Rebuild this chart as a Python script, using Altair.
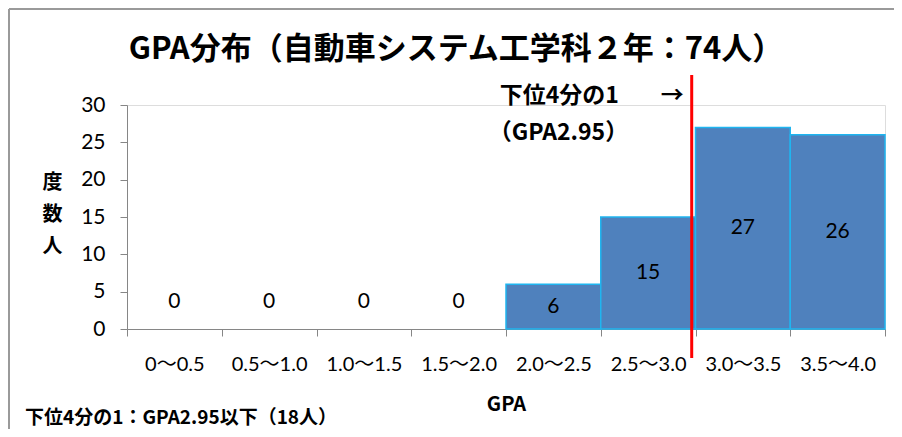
import altair as alt
import pandas as pd

categories = ["0〜0.5", "0.5〜1.0", "1.0〜1.5", "1.5〜2.0",
              "2.0〜2.5", "2.5〜3.0", "3.0〜3.5", "3.5〜4.0"]
counts = [0, 0, 0, 0, 6, 15, 27, 26]
cutoff_gpa = [2.98]
title_text = "GPA分布（自動車システム工学科２年：74人）"
note_line1 = "下位4分の1"
note_arrow = "→"
note_line2 = "（GPA2.95）"
footnote = "下位4分の1：GPA2.95以下（18人）"
y_title = ["度", "数", "人"]
y_ticks = [0, 5, 10, 15, 20, 25, 30]

W, H = 758, 224
NUM = "Lato, 'Noto Sans CJK JP', sans-serif"
JP = "'Noto Sans CJK JP', sans-serif"
AX = "#868686"

df = pd.DataFrame({"bin": categories, "count": counts})
cut = pd.DataFrame({"gpa": cutoff_gpa})

x_axis = alt.Axis(title="GPA", labelAngle=0, tickBand="extent",
                  domainColor=AX, tickColor=AX, tickSize=7,
                  labelFont=NUM, labelFontSize=20, labelColor="#000",
                  labelPadding=18, labelOverlap=False,
                  titleFont=JP, titleFontSize=20,
                  titleFontWeight="bold", titleColor="#000",
                  titlePadding=20)
y_axis = alt.Axis(values=y_ticks, grid=False, labelOverlap=False,
                  domainColor=AX, tickColor=AX, tickSize=7,
                  labelFont=NUM, labelFontSize=21, labelColor="#000",
                  labelPadding=15, title=y_title, titleAngle=0,
                  titleFont=JP, titleFontSize=20, titleFontWeight="bold",
                  titleColor="#000", titleLineHeight=32,
                  titleX=-75, titleY=77, titleAlign="center",
                  titleBaseline="middle")
x_scale = alt.Scale(paddingInner=0, paddingOuter=0)
y_scale = alt.Scale(domain=[0, 30])

base = alt.Chart(df)
bars = base.mark_bar(color="#4F81BD", stroke="#1FB5F0", strokeWidth=1.5).encode(
    x=alt.X("bin:N", sort=categories, scale=x_scale, axis=x_axis),
    y=alt.Y("count:Q", scale=y_scale, axis=y_axis),
    strokeOpacity=alt.condition("datum.count > 0", alt.value(1), alt.value(0)))
labels = base.transform_calculate(
    ly="datum.count == 0 ? 3.6 : datum.count / 2"
).mark_text(font=NUM, fontSize=21, color="#000", baseline="middle").encode(
    x=alt.X("bin:N", sort=categories, scale=x_scale, axis=x_axis),
    y=alt.Y("ly:Q", scale=y_scale, axis=y_axis),
    text="count:Q")

xq = alt.X("gpa:Q", scale=alt.Scale(domain=[0, 4]), axis=None)
rule = alt.Chart(cut).mark_rule(color="#FF0000", strokeWidth=3).encode(
    x=xq, y=alt.value(-30), y2=alt.value(H + 29))
ann1 = alt.Chart(cut).mark_text(text=note_line1, font=JP, fontSize=23,
                                fontWeight="bold", align="left",
                                baseline="middle", dx=-192).encode(
    x=xq, y=alt.value(-9))
arrow = alt.Chart(cut).mark_text(text=note_arrow, font=JP, fontSize=23,
                                 fontWeight="bold", align="right",
                                 baseline="middle", dx=-8).encode(
    x=xq, y=alt.value(-9))
ann2 = alt.Chart(cut).mark_text(text=note_line2, font=JP, fontSize=23,
                                fontWeight="bold", align="left",
                                baseline="middle", dx=-203).encode(
    x=xq, y=alt.value(28))

ttl = alt.Chart(cut).mark_text(text=title_text, font=JP, fontSize=31,
                               fontWeight="bold", align="center",
                               baseline="middle").encode(
    x=alt.value(W / 2 - 50), y=alt.value(-55))
foot = alt.Chart(cut).mark_text(text=footnote, font=JP, fontSize=19,
                                fontWeight="bold", align="left",
                                baseline="middle").encode(
    x=alt.value(-102), y=alt.value(313))

# outer frame (chart-area border, top and left edges)
frame_top = alt.Chart(cut).mark_rule(color="#9A9A9A", strokeWidth=2).encode(
    x=alt.value(-118), x2=alt.value(W + 30), y=alt.value(-96))
frame_left = alt.Chart(cut).mark_rule(color="#9A9A9A", strokeWidth=2).encode(
    x=alt.value(-118), y=alt.value(-96), y2=alt.value(H + 130))

main = alt.layer(bars, labels)
extra = alt.layer(frame_top, frame_left, rule, ann1, arrow, ann2, ttl, foot)

chart = alt.layer(main, extra).resolve_scale(
    x="independent"
).properties(
    width=W, height=H,
    autosize=alt.AutoSizeParams(type="none"),
    padding={"left": 119, "top": 97, "right": 9, "bottom": 100},
).configure_view(stroke=None).configure(background="white")

chart.save("out.html", embed_options={"renderer": "svg", "actions": False})
